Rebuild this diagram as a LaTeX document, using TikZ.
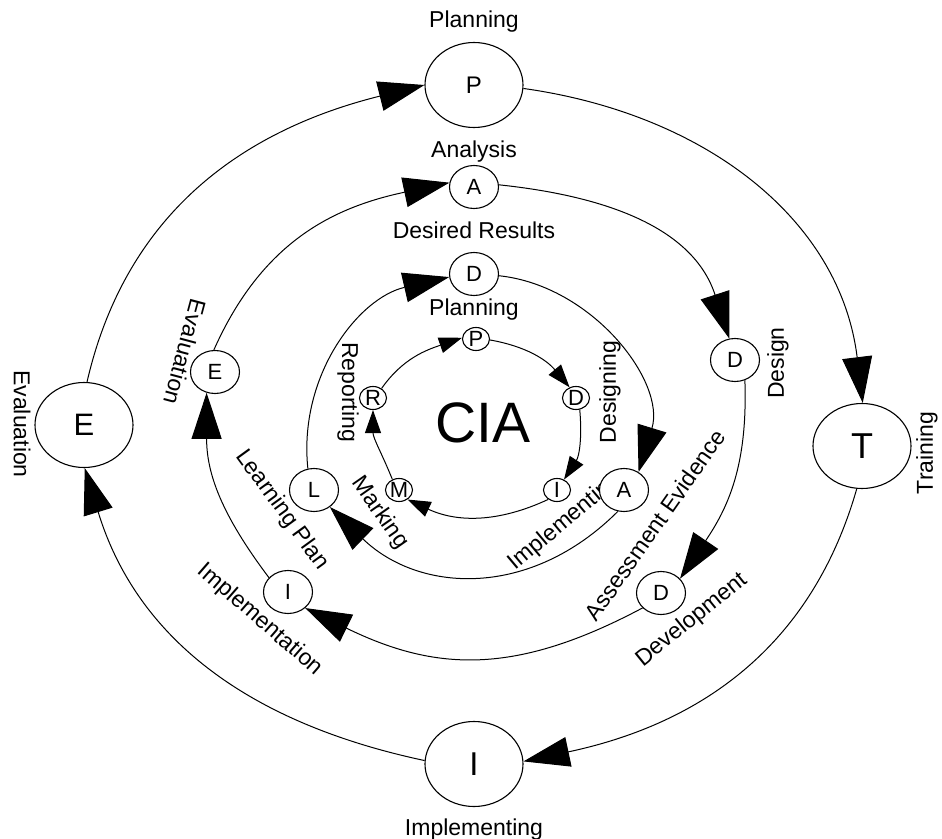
\documentclass[tikz,border=0pt]{standalone}
\usepackage{fontspec}
\setmainfont{Liberation Sans}
\usetikzlibrary{arrows.meta,shapes.geometric}
\tikzset{
  stagebox/.style={
    draw,
    ellipse,
    line width=1.1pt,
    fill=white,
    inner sep=0pt
  },
  bigstage/.style={stagebox, minimum width=98pt, minimum height=85pt, font=\fontsize{31pt}{33pt}\selectfont},
  midstage/.style={stagebox, minimum width=49pt, minimum height=43pt, font=\fontsize{22pt}{24pt}\selectfont},
  smallstage/.style={stagebox, minimum width=27pt, minimum height=23pt, font=\fontsize{22pt}{24pt}\selectfont},
  steplabel/.style={font=\fontsize{23pt}{26pt}\selectfont, inner sep=0pt},
  flow/.style={-{Triangle[length=46pt,width=30pt]}, line width=1pt},
  smallflow/.style={-{Triangle[length=23pt,width=16pt]}, line width=1pt}
}

\begin{document}
\begin{tikzpicture}[x=1pt, y=1pt]
\useasboundingbox (-474,-413) rectangle (468,425);

% labels
\node[steplabel, anchor=base] (lplan1) at (0,397) {Planning};
\node[steplabel, anchor=base] (lanal) at (0,267) {Analysis};
\node[steplabel, anchor=base] (ldesired) at (0,186) {Desired Results};
\node[steplabel, anchor=base] (lplan4) at (0,110) {Planning};
\node[steplabel, anchor=base] (limpl1) at (0,-410) {Implementing};
\node[steplabel, rotate=-90] (leval1) at (-452,1) {Evaluation};
\node[steplabel, rotate=90] (ltrain) at (453,-28) {Training};
\node[steplabel, rotate=90] (ldesign) at (304,62) {Design};
\node[steplabel, rotate=-105] (leval2) at (-289,73) {Evaluation};
\node[steplabel, rotate=-90] (lreport) at (-126,33) {Reporting};
\node[steplabel, rotate=90] (ldesigning) at (136,33) {Designing};
\node[font=\fontsize{57pt}{60pt}\selectfont, inner sep=0pt] (cia) at (9,2) {CIA};
\node[steplabel, rotate=-55] (lmark) at (-94,-88) {Marking};
\node[steplabel, rotate=-54] (llearn) at (-192,-85) {Learning Plan};
\node[steplabel, rotate=-41] (limpl2) at (-214,-195) {Implementation};
\node[steplabel, rotate=40] (limpl4) at (91,-97) {Implementing};
\node[steplabel, rotate=55] (lassess) at (181,-100) {Assessment Evidence};
\node[steplabel, rotate=39] (ldevel) at (218,-195) {Development};

% outer ring
\node[bigstage, font=\fontsize{24pt}{26pt}\selectfont] (P1) at (0,340) {P};
\node[bigstage, font=\fontsize{36pt}{38pt}\selectfont] (T1) at (388,-21) {T};
\node[bigstage, font=\fontsize{33pt}{35pt}\selectfont] (I1) at (0,-339) {I};
\node[bigstage] (E1) at (-390,0) {E};
% second ring
\node[midstage] (A2) at (0,238) {A};
\node[midstage] (D2a) at (261,65) {D};
\node[midstage] (D2b) at (187,-168) {D};
\node[midstage] (I2) at (-186,-167) {I};
\node[midstage] (E2) at (-259,53) {E};
% third ring
\node[midstage] (D3) at (0,151) {D};
\node[midstage] (A3) at (150,-65) {A};
\node[midstage] (L3) at (-160,-65) {L};
% inner ring
\node[smallstage] (P4) at (2,86) {P};
\node[smallstage] (D4) at (102,27) {D};
\node[smallstage] (I4) at (83,-65) {I};
\node[smallstage] (M4) at (-75,-65) {M};
\node[smallstage] (R4) at (-101,27) {R};

\draw[flow, looseness=1.02] (E1.86) to[out=77, in=194] (P1.180);
\draw[flow, looseness=1.02] (P1.-4) to[out=-8, in=97] (T1.89);
\draw[flow, looseness=1.02] (T1.-97) to[out=-106, in=12] (I1.3);
\draw[flow, looseness=1.02] (I1.176) to[out=168, in=-73] (E1.-89);

\draw[flow, looseness=1.05] (E2.93) to[out=66, in=192] (A2.170);
\draw[flow, looseness=1.05] (A2.5) to[out=-6, in=108] (D2a.105);
\draw[flow, looseness=1.05] (D2a.-64) to[out=-88, in=56] (D2b.37);
\draw[flow, looseness=1.1] (D2b.219) to[out=208, in=-26] (I2.-43);
\draw[flow, looseness=1.05] (I2.143) to[out=127, in=-90] (E2.-112);

\draw[flow] (L3.106) to[out=96, in=193] (D3.187);
\draw[flow] (D3.-4) to[out=-6, in=73] (A3.51);
\draw[flow, looseness=1.1] (A3.-106) to[out=225, in=-44] (L3.-47);

\draw[smallflow] (R4.48) to[out=55, in=199] (P4.175);
\draw[smallflow] (P4.-4) to[out=-10, in=130] (D4.121);
\draw[smallflow] (D4.-72) to[out=-85, in=57] (I4.56);
\draw[smallflow] (I4.227) to[out=205, in=-25] (M4.-48);
\draw[smallflow] (M4.122) to[out=112, in=-90] (R4.-90);
\end{tikzpicture}
\end{document}
